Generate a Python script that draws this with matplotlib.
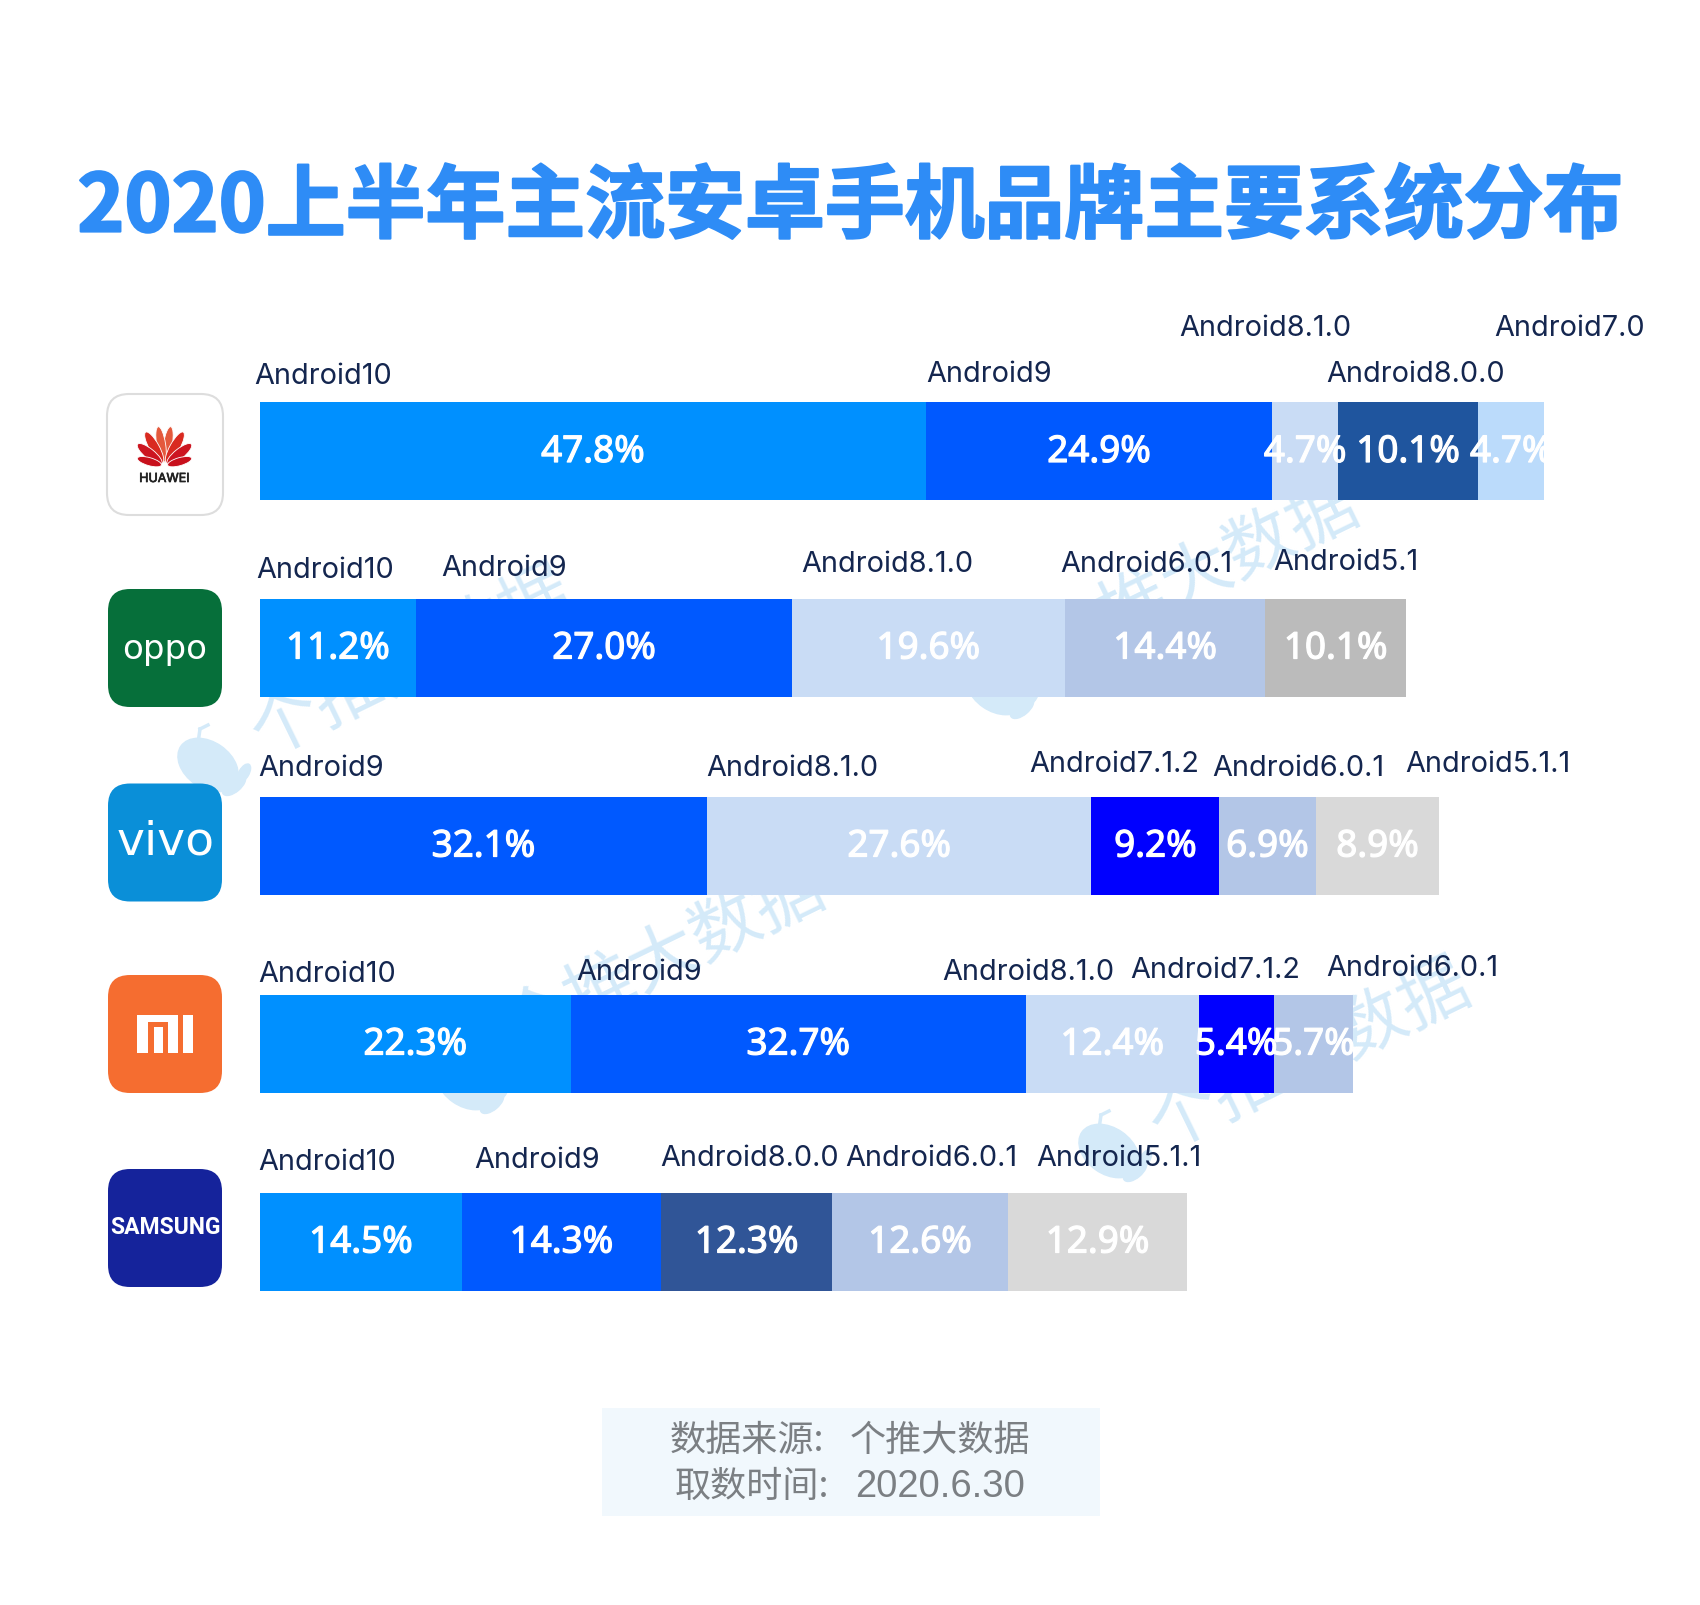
import matplotlib
matplotlib.use("Agg")
import matplotlib.pyplot as plt
import matplotlib.patheffects as pe
from matplotlib.patches import FancyBboxPatch, Ellipse, Rectangle
import numpy as np

CJK = ['Noto Sans CJK SC', 'DejaVu Sans']

title = "2020上半年主流安卓手机品牌主要系统分布"
brands = ["HUAWEI", "oppo", "vivo", "MI", "SAMSUNG"]
huawei_versions = ["Android10", "Android9", "Android8.1.0", "Android8.0.0", "Android7.0"]
huawei_values = [47.8, 24.9, 4.7, 10.1, 4.7]
oppo_versions = ["Android10", "Android9", "Android8.1.0", "Android6.0.1", "Android5.1"]
oppo_values = [11.2, 27.0, 19.6, 14.4, 10.1]
vivo_versions = ["Android9", "Android8.1.0", "Android7.1.2", "Android6.0.1", "Android5.1.1"]
vivo_values = [32.1, 27.6, 9.2, 6.9, 8.9]
mi_versions = ["Android10", "Android9", "Android8.1.0", "Android7.1.2", "Android6.0.1"]
mi_values = [22.3, 32.7, 12.4, 5.4, 5.7]
samsung_versions = ["Android10", "Android9", "Android8.0.0", "Android6.0.1", "Android5.1.1"]
samsung_values = [14.5, 14.3, 12.3, 12.6, 12.9]
footer_heads = ["数据来源:", "取数时间:"]
footer_tails = ["个推大数据", "2020.6.30"]
watermark = "个推大数据"

all_versions = [huawei_versions, oppo_versions, vivo_versions, mi_versions, samsung_versions]
all_values = [huawei_values, oppo_values, vivo_values, mi_values, samsung_values]

COLORS = [
    ["#0090FF", "#0059FF", "#C9DCF5", "#1F559E", "#BBDBFB"],
    ["#0090FF", "#0059FF", "#C9DCF5", "#B3C6E7", "#BBBBBB"],
    ["#0059FF", "#C9DCF5", "#0000FF", "#B3C6E7", "#D9D9D9"],
    ["#0090FF", "#0059FF", "#C9DCF5", "#0000FF", "#B3C6E7"],
    ["#0090FF", "#0059FF", "#305597", "#B3C6E7", "#D9D9D9"],
]

# ---- layout (pixels of the 1700x1605 canvas) ----
W, H = 1700, 1605
X0, PX_PER_PCT = 260.0, 13.925
ROW_Y = [451, 647.5, 845.5, 1043.5, 1241.5]
BAR_H = 98
LOGO_BOX = [(107, 394, 116, 121), (108, 589, 114, 118), (108, 783.5, 114, 118),
            (108, 975, 114, 118), (108, 1169, 114, 118)]
LOGO_COL = ["#FFFFFF", "#066F3A", "#0A8FD8", "#F56D30", "#15239B"]
LABEL_POS = [
    [(256, 375), (928, 372), (1181, 326), (1328, 372), (1496, 326)],
    [(258, 568), (443, 566), (803, 563), (1062, 563), (1275, 560)],
    [(260, 767), (708, 767), (1031, 762), (1214, 767), (1407, 762)],
    [(260, 973), (578, 970), (944, 970), (1132, 968), (1328, 967)],
    [(260, 1161), (476, 1158), (662, 1156), (847, 1156), (1038, 1156)],
]
WM_POS = [(411, 662), (1198, 575), (664, 958), (1310, 1055)]
WHALE_POS = [(212, 767), (1000, 690), (470, 1085), (1113, 1153)]

fig = plt.figure(figsize=(W / 100, H / 100), dpi=100, facecolor="white")

bg = fig.add_axes([0, 0, 1, 1], zorder=0)
bg.set_xlim(0, W); bg.set_ylim(H, 0); bg.axis("off")

# watermarks
WM_COL = "#D4EAF9"
for (x, y) in WM_POS:
    bg.text(x, y, watermark, family=CJK, fontsize=50, color=WM_COL, rotation=26,
            rotation_mode="anchor", ha="center", va="center", zorder=1)
for (x, y) in WHALE_POS:
    bg.add_patch(Ellipse((x - 4, y - 2), 66, 46, angle=35, color=WM_COL, zorder=1))
    bg.add_patch(Ellipse((x + 22, y + 18), 28, 14, angle=-40, color=WM_COL, zorder=1))
    bg.add_patch(Ellipse((x + 32, y + 6), 10, 20, angle=30, color=WM_COL, zorder=1))
    bg.plot([x - 14, x - 12], [y - 24, y - 38], color=WM_COL, lw=2.5, zorder=1)
    bg.plot([x - 12, x - 4], [y - 38, y - 42], color=WM_COL, lw=2.5, zorder=1)

# bars axis: x in percent, y in canvas px
ax = fig.add_axes([0, 0, 1, 1], zorder=1)
ax.set_xlim(-X0 / PX_PER_PCT, (W - X0) / PX_PER_PCT)
ax.set_ylim(H, 0)
ax.axis("off")
ax.patch.set_alpha(0)

pct_fx = [pe.withStroke(linewidth=0.9, foreground="white")]
for r, (vals, cols) in enumerate(zip(all_values, COLORS)):
    left = 0.0
    for v, c in zip(vals, cols):
        ax.barh(ROW_Y[r], v, left=left, height=BAR_H, color=c, linewidth=0)
        ax.text(left + v / 2, ROW_Y[r] + 2, f"{v:.1f}%", color="white", fontsize=26.5,
                family="Noto Sans", ha="center", va="center", path_effects=pct_fx)
        left += v

top = fig.add_axes([0, 0, 1, 1], zorder=2)
top.set_xlim(0, W); top.set_ylim(H, 0); top.axis("off"); top.patch.set_alpha(0)

TITLE_COL = "#2E8CF6"
top.text(850.5, 208, title, family=CJK, fontsize=57.5, fontweight="bold", color=TITLE_COL,
         ha="center", va="center",
         path_effects=[pe.withStroke(linewidth=1.6, foreground=TITLE_COL)])

for r, (names, pos) in enumerate(zip(all_versions, LABEL_POS)):
    for name, (x, y) in zip(names, pos):
        top.text(x - 1.5, y + 2, name, family="Inter", fontsize=20.8, color="#14264F",
                 ha="left", va="center")

# logos
for i, ((x, y, w, h), col) in enumerate(zip(LOGO_BOX, LOGO_COL)):
    top.add_patch(FancyBboxPatch((x + 22, y + 22), w - 44, h - 44,
                                 boxstyle="round,pad=22,rounding_size=22",
                                 fc=col, ec="#DDDDDD" if i == 0 else "none",
                                 lw=1.5 if i == 0 else 0))

# huawei petals
cx, cy = 164.5, 466
for ang, ln, wd, col in [(9, 36, 9, "#E4593C"), (-9, 36, 9, "#E4593C"),
                         (29, 35, 10, "#D92A20"), (-29, 35, 10, "#D92A20"),
                         (51, 31, 10, "#CC1520"), (-51, 31, 10, "#CC1520"),
                         (74, 25, 8, "#C8101C"), (-74, 25, 8, "#C8101C")]:
    a = np.radians(ang)
    d = ln * 0.55 + 2
    top.add_patch(Ellipse((cx + d * np.sin(a), cy - d * np.cos(a)), wd, ln,
                          angle=ang, fc=col, ec="white", lw=0.6))
top.text(164.5, 479, brands[0], family="Inter", fontsize=9, color="#222222", ha="center",
         va="center", path_effects=[pe.withStroke(linewidth=0.5, foreground="#222222")])
top.text(165, 650, brands[1], family="DejaVu Sans", fontsize=24.5,
         color="white", ha="center", va="center")
top.text(166, 842, brands[2], family="DejaVu Sans", fontsize=34,
         color="white", ha="center", va="center")
for (rx, ry, rw, rh) in [(137, 1015, 41, 7), (137, 1015, 11, 38), (154, 1027, 9, 26),
                         (168, 1015, 10, 38), (183, 1015, 10, 38)]:
    top.add_patch(Rectangle((rx, ry), rw, rh, fc="white", ec="none"))
top.text(166, 1227, brands[4], family="Roboto", fontsize=16.5, fontweight="bold",
         color="white", ha="center", va="center")

# footer
top.add_patch(Rectangle((602, 1408), 498, 108, fc="#F1F8FD", ec="none"))
FOOT_COL = "#7B7F83"
top.text(670, 1441, footer_heads[0], family=CJK, fontsize=26, color=FOOT_COL, ha="left", va="center")
top.text(850, 1441, footer_tails[0], family=CJK, fontsize=26, color=FOOT_COL, ha="left", va="center")
top.text(675, 1487, footer_heads[1], family=CJK, fontsize=26, color=FOOT_COL, ha="left", va="center")
top.text(855, 1487, footer_tails[1], family="Liberation Sans", fontsize=27.5, color=FOOT_COL, ha="left", va="center")

fig.savefig("out.png", dpi=100, facecolor="white")
